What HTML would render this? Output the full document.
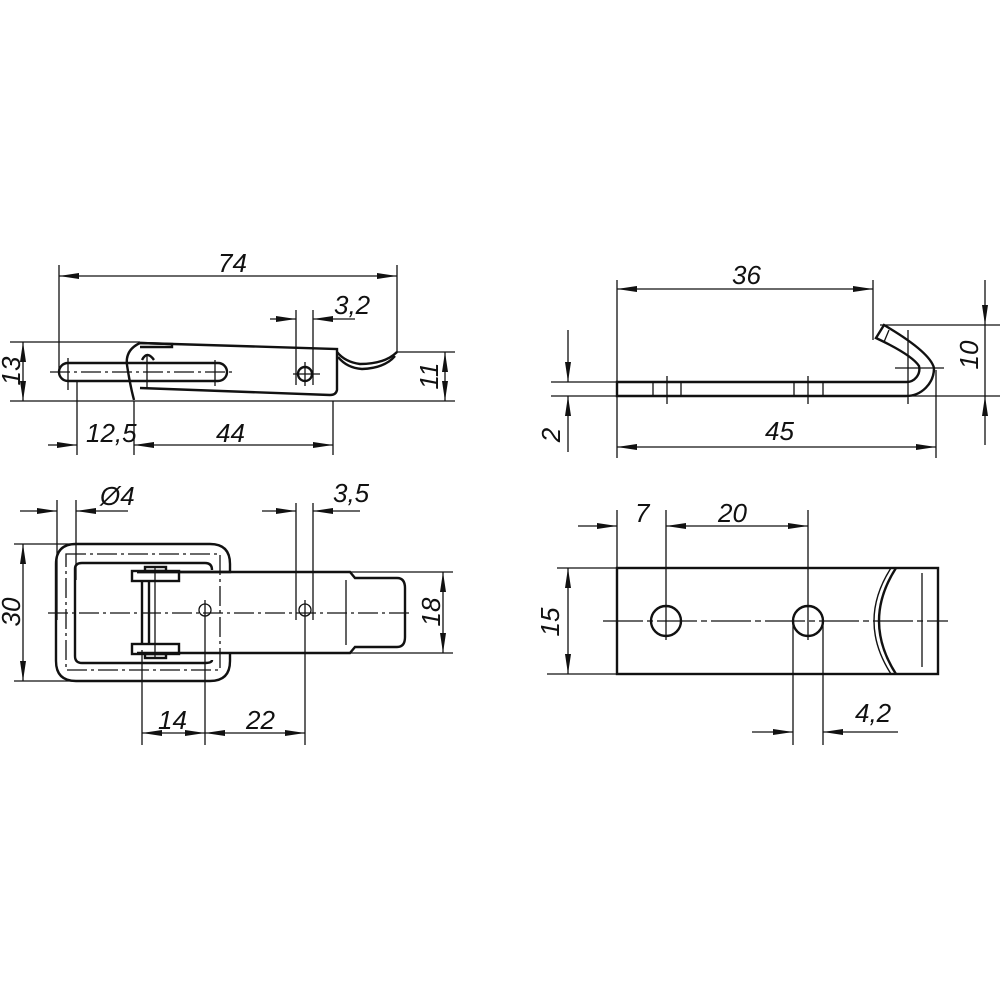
<!DOCTYPE html>
<html><head><meta charset="utf-8"><style>
html,body{margin:0;padding:0;background:#fff}
svg{display:block}
text{font-family:"Liberation Sans",sans-serif;font-style:italic;font-size:26px;fill:#111}
</style></head><body>
<svg width="1000" height="1000" viewBox="0 0 1000 1000" xmlns="http://www.w3.org/2000/svg">
<defs>
<marker id="a" viewBox="0 0 20 8" refX="20" refY="4" markerWidth="20" markerHeight="8" markerUnits="userSpaceOnUse" orient="auto-start-reverse"><path d="M0,1 L20,4 L0,7 z" fill="#111"/></marker>
</defs>
<g stroke="#111" fill="none" stroke-width="1.3">
<!-- ===== Top-left view ===== -->
<line x1="59" y1="276" x2="397" y2="276" marker-start="url(#a)" marker-end="url(#a)"/>
<line x1="59" y1="265" x2="59" y2="372"/>
<line x1="397" y1="265" x2="397" y2="352"/>
<line x1="270" y1="319" x2="296" y2="319" marker-end="url(#a)"/>
<line x1="355" y1="319" x2="313" y2="319" marker-end="url(#a)"/>
<line x1="296" y1="310" x2="296" y2="385"/>
<line x1="313" y1="310" x2="313" y2="385"/>
<line x1="10" y1="342" x2="140" y2="342"/>
<line x1="10" y1="401" x2="455" y2="401"/>
<line x1="23" y1="342" x2="23" y2="401" marker-start="url(#a)" marker-end="url(#a)"/>
<line x1="397" y1="352" x2="455" y2="352"/>
<line x1="445" y1="352" x2="445" y2="401" marker-start="url(#a)" marker-end="url(#a)"/>
<line x1="48" y1="445" x2="77" y2="445" marker-end="url(#a)"/>
<line x1="134" y1="445" x2="333" y2="445" marker-start="url(#a)" marker-end="url(#a)"/>
<line x1="77" y1="380" x2="77" y2="455"/>
<line x1="134" y1="401" x2="134" y2="455"/>
<line x1="333" y1="401" x2="333" y2="455"/>
<g stroke-width="2.4">
<path d="M68,363 L218,363 A9,9 0 0 1 218,381 L68,381 A9,9 0 0 1 68,363 Z"/>
<path d="M140,343 L337,349 L337,390 Q336,395 330,395 L140,388"/>
<path d="M140,343 Q125,350 127,365 Q130,385 134,400"/>
<path d="M140,343 L172,344 L172,347 L140,347"/>
<path d="M337,352 Q345,362 360,364 Q385,364 397,352"/>
<path d="M338,357 Q347,368 362,369 Q385,368 395,356"/>
<circle cx="305" cy="374" r="7"/>
<path d="M142,360 Q147,350 154,360"/>
</g>
<line x1="50" y1="372" x2="235" y2="372" stroke-dasharray="20,4,3,4"/>
<line x1="68" y1="358" x2="68" y2="390"/>
<line x1="147" y1="355" x2="147" y2="388"/>
<line x1="215" y1="360" x2="215" y2="386"/>
<line x1="293" y1="374" x2="320" y2="374"/>
<line x1="305" y1="362" x2="305" y2="386"/>
</g>
<text x="218" y="272">74</text>
<text x="334" y="314">3,2</text>
<text x="86" y="442">12,5</text>
<text x="216" y="442">44</text>
<text transform="translate(20,371) rotate(-90)" text-anchor="middle">13</text>
<text transform="translate(438,376) rotate(-90)" text-anchor="middle">11</text>

<g stroke="#111" fill="none" stroke-width="1.3">
<!-- ===== Bottom-left view ===== -->
<line x1="20" y1="511" x2="57" y2="511" marker-end="url(#a)"/>
<line x1="128" y1="511" x2="76" y2="511" marker-end="url(#a)"/>
<line x1="57" y1="500" x2="57" y2="620"/>
<line x1="76" y1="500" x2="76" y2="580"/>
<line x1="262" y1="511" x2="296" y2="511" marker-end="url(#a)"/>
<line x1="360" y1="511" x2="313" y2="511" marker-end="url(#a)"/>
<line x1="296" y1="503" x2="296" y2="620"/>
<line x1="313" y1="503" x2="313" y2="620"/>
<line x1="14" y1="544" x2="75" y2="544"/>
<line x1="14" y1="681" x2="210" y2="681"/>
<line x1="23" y1="544" x2="23" y2="681" marker-start="url(#a)" marker-end="url(#a)"/>
<line x1="350" y1="572" x2="453" y2="572"/>
<line x1="350" y1="653" x2="453" y2="653"/>
<line x1="443" y1="572" x2="443" y2="653" marker-start="url(#a)" marker-end="url(#a)"/>
<line x1="48" y1="613" x2="413" y2="613" stroke-dasharray="20,4,3,4"/>
<line x1="142" y1="650" x2="142" y2="745"/>
<line x1="205" y1="600" x2="205" y2="745"/>
<line x1="305" y1="600" x2="305" y2="745"/>
<line x1="142" y1="733" x2="205" y2="733" marker-start="url(#a)" marker-end="url(#a)"/>
<line x1="205" y1="733" x2="305" y2="733" marker-start="url(#a)" marker-end="url(#a)"/>
<g stroke-width="2.4">
<path d="M137,572 L230,572 L230,564 Q230,544 210,544 L76,544 Q56,544 56,564 L56,661 Q56,681 76,681 L210,681 Q230,681 230,661 L230,653"/>
<path d="M137,563 L205,563 Q212,563 212,570 M212,660 Q212,663 205,663 L82,663 Q75,663 75,656 L75,569 Q75,563 82,563 L137,563"/>
<path d="M137,572 L350,572 L355,578 L397,578 Q405,578 405,588 L405,637 Q405,647 397,647 L355,647 L350,653 L137,653"/>
<rect x="132" y="571" width="47" height="10"/>
<rect x="132" y="644" width="47" height="10"/>
<rect x="145" y="567" width="21" height="4"/>
<rect x="145" y="654" width="21" height="4"/>
<line x1="142" y1="581" x2="142" y2="644"/>
<line x1="149" y1="581" x2="149" y2="644"/>
</g>
<path d="M66,554 L220,554 L220,670 L66,670 Z" stroke-dasharray="20,4,3,4"/>
<line x1="346" y1="580" x2="346" y2="645"/>
<circle cx="205" cy="610" r="6"/>
<circle cx="305" cy="610" r="6"/>
<line x1="155" y1="567" x2="155" y2="657"/>
</g>
<text x="100" y="505">Ø4</text>
<text x="333" y="502">3,5</text>
<text x="158" y="729">14</text>
<text x="246" y="729">22</text>
<text transform="translate(20,612) rotate(-90)" text-anchor="middle">30</text>
<text transform="translate(440,612) rotate(-90)" text-anchor="middle">18</text>

<g stroke="#111" fill="none" stroke-width="1.3">
<!-- ===== Top-right view ===== -->
<line x1="617" y1="289" x2="873" y2="289" marker-start="url(#a)" marker-end="url(#a)"/>
<line x1="617" y1="280" x2="617" y2="458"/>
<line x1="873" y1="280" x2="873" y2="340"/>
<line x1="617" y1="447" x2="936" y2="447" marker-start="url(#a)" marker-end="url(#a)"/>
<line x1="936" y1="370" x2="936" y2="458"/>
<line x1="880" y1="325" x2="1000" y2="325"/>
<line x1="908" y1="396" x2="1000" y2="396"/>
<line x1="985" y1="280" x2="985" y2="325" marker-end="url(#a)"/>
<line x1="985" y1="445" x2="985" y2="396" marker-end="url(#a)"/>
<line x1="985" y1="325" x2="985" y2="396"/>
<line x1="551" y1="382" x2="617" y2="382"/>
<line x1="551" y1="396" x2="617" y2="396"/>
<line x1="568" y1="330" x2="568" y2="382" marker-end="url(#a)"/>
<line x1="568" y1="452" x2="568" y2="396" marker-end="url(#a)"/>
<g stroke-width="2.4">
<path d="M617,396 L906,396 A28,28 0 0 0 934,368 Q930,352 884,325 L876,338 Q912,355 919,366 A13,13 0 0 1 906,382 L617,382 Z"/>
</g>
<line x1="653" y1="382" x2="653" y2="396"/>
<line x1="681" y1="382" x2="681" y2="396"/>
<line x1="667" y1="376" x2="667" y2="404"/>
<line x1="794" y1="382" x2="794" y2="396"/>
<line x1="823" y1="382" x2="823" y2="396"/>
<line x1="808" y1="376" x2="808" y2="404"/>
<line x1="908" y1="330" x2="908" y2="404"/>
<line x1="895" y1="368" x2="944" y2="368"/>
<line x1="889" y1="330" x2="884" y2="342"/>
</g>
<text x="732" y="284">36</text>
<text x="765" y="440">45</text>
<text transform="translate(978,355) rotate(-90)" text-anchor="middle">10</text>
<text transform="translate(560,435) rotate(-90)" text-anchor="middle">2</text>

<g stroke="#111" fill="none" stroke-width="1.3">
<!-- ===== Bottom-right view ===== -->
<line x1="578" y1="526" x2="617" y2="526" marker-end="url(#a)"/>
<line x1="666" y1="526" x2="808" y2="526" marker-start="url(#a)" marker-end="url(#a)"/>
<line x1="617" y1="510" x2="617" y2="568"/>
<line x1="666" y1="510" x2="666" y2="640"/>
<line x1="808" y1="510" x2="808" y2="640"/>
<line x1="557" y1="568" x2="617" y2="568"/>
<line x1="547" y1="674" x2="617" y2="674"/>
<line x1="568" y1="568" x2="568" y2="674" marker-start="url(#a)" marker-end="url(#a)"/>
<line x1="603" y1="621" x2="948" y2="621" stroke-dasharray="40,4,6,4"/>
<line x1="793" y1="621" x2="793" y2="745"/>
<line x1="823" y1="621" x2="823" y2="745"/>
<line x1="752" y1="732" x2="793" y2="732" marker-end="url(#a)"/>
<line x1="898" y1="732" x2="823" y2="732" marker-end="url(#a)"/>
<g stroke-width="2.4">
<rect x="617" y="568" width="321" height="106"/>
<circle cx="666" cy="621" r="15"/>
<circle cx="808" cy="621" r="15"/>
<path d="M896,568 Q862,621 896,674"/>
<path d="M891,568 Q857,621 891,674" stroke-width="1.4"/>
</g>
<line x1="922" y1="573" x2="922" y2="667"/>
</g>
<text x="635" y="522">7</text>
<text x="718" y="522">20</text>
<text x="855" y="722">4,2</text>
<text transform="translate(559,622) rotate(-90)" text-anchor="middle">15</text>
</svg>
</body></html>
